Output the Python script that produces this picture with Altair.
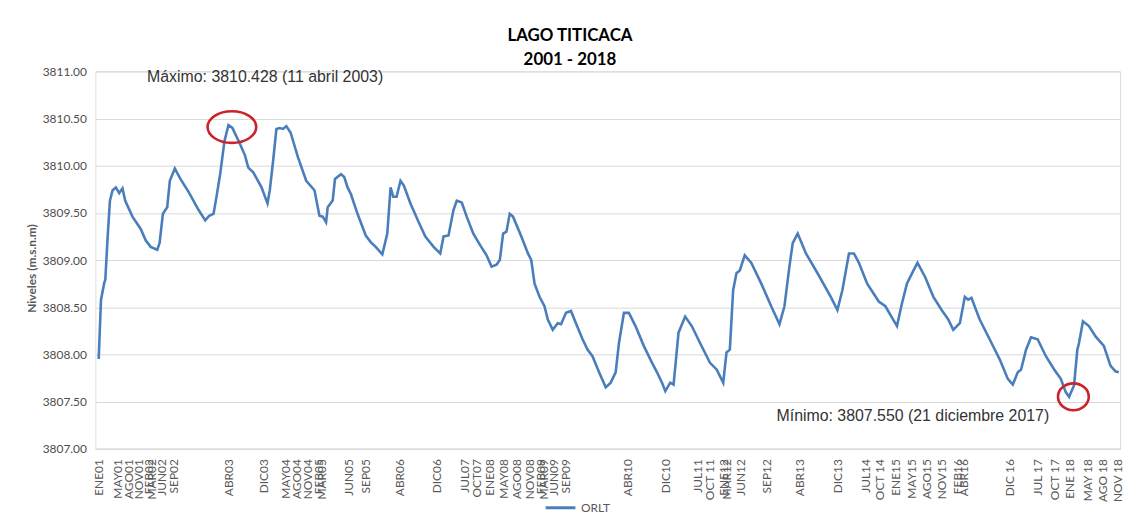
import altair as alt
import pandas as pd

# Fila (posición de la observación en el eje de categorías) y nivel (m.s.n.m)
filas = [20, 34, 54, 60, 74, 88, 104, 124, 144, 164, 180, 224, 274, 304, 334, 374, 388, 408, 434, 450,
         480, 514, 564, 624, 664, 688, 714, 728, 754, 780, 804, 828, 874, 904, 924, 954, 1004, 1040, 1054, 1074,
         1094, 1114, 1134, 1154, 1180, 1224, 1274, 1324, 1354, 1374, 1394, 1404, 1434, 1448, 1484, 1504, 1524, 1544, 1584, 1634,
         1664, 1694, 1734, 1764, 1784, 1800, 1820, 1844, 1864, 1904, 1954, 1994, 2044, 2084, 2104, 2134, 2164, 2184, 2214, 2244,
         2284, 2324, 2364, 2394, 2424, 2444, 2464, 2484, 2504, 2524, 2574, 2614, 2634, 2654, 2684, 2714, 2734, 2764, 2794, 2814,
         2844, 2874, 2904, 2944, 2974, 3004, 3044, 3084, 3114, 3144, 3164, 3194, 3224, 3264, 3314, 3364, 3394, 3424, 3444, 3474,
         3494, 3524, 3564, 3604, 3654, 3714, 3754, 3794, 3814, 3834, 3854, 3874, 3894, 3924, 3964, 4024, 4084, 4134, 4164, 4194,
         4214, 4244, 4294, 4364, 4444, 4484, 4514, 4554, 4584, 4614, 4664, 4734, 4774, 4814, 4844, 4874, 4904, 4944, 4968, 5014,
         5064, 5114, 5154, 5184, 5224, 5254, 5274, 5294, 5344, 5404, 5464, 5514, 5544, 5574, 5594, 5624, 5654, 5694, 5744, 5794,
         5834, 5864, 5884, 5914, 5934, 5944, 5968, 6004, 6044, 6094, 6134, 6164, 6184]
niveles = [3807.95, 3808.58, 3808.76, 3808.79, 3809.24, 3809.63, 3809.74, 3809.77, 3809.71, 3809.76, 3809.63, 3809.46, 3809.33, 3809.21, 3809.14, 3809.11, 3809.18, 3809.49, 3809.56, 3809.84,
           3809.97, 3809.86, 3809.72, 3809.53, 3809.42, 3809.47, 3809.49, 3809.63, 3809.91, 3810.26, 3810.43, 3810.40, 3810.23, 3810.11, 3809.98, 3809.93, 3809.77, 3809.60, 3809.74, 3810.05,
           3810.39, 3810.40, 3810.39, 3810.42, 3810.35, 3810.09, 3809.84, 3809.74, 3809.47, 3809.46, 3809.40, 3809.56, 3809.63, 3809.86, 3809.91, 3809.88, 3809.77, 3809.70, 3809.49, 3809.26,
           3809.19, 3809.14, 3809.06, 3809.28, 3809.77, 3809.67, 3809.67, 3809.84, 3809.79, 3809.60, 3809.40, 3809.25, 3809.14, 3809.07, 3809.25, 3809.26, 3809.53, 3809.63, 3809.61, 3809.46,
           3809.28, 3809.16, 3809.05, 3808.93, 3808.95, 3809.00, 3809.28, 3809.30, 3809.49, 3809.46, 3809.25, 3809.07, 3809.00, 3808.75, 3808.61, 3808.51, 3808.37, 3808.26, 3808.33, 3808.32,
           3808.44, 3808.46, 3808.33, 3808.16, 3808.05, 3807.98, 3807.81, 3807.65, 3807.70, 3807.81, 3808.12, 3808.44, 3808.44, 3808.30, 3808.09, 3807.91, 3807.81, 3807.70, 3807.61, 3807.70,
           3807.68, 3808.23, 3808.40, 3808.30, 3808.12, 3807.91, 3807.84, 3807.70, 3808.02, 3808.05, 3808.68, 3808.86, 3808.89, 3809.05, 3808.97, 3808.75, 3808.51, 3808.32, 3808.51, 3808.93,
           3809.18, 3809.28, 3809.07, 3808.86, 3808.61, 3808.47, 3808.68, 3809.07, 3809.07, 3808.97, 3808.75, 3808.56, 3808.51, 3808.39, 3808.30, 3808.54, 3808.75, 3808.89, 3808.97, 3808.82,
           3808.61, 3808.47, 3808.37, 3808.26, 3808.33, 3808.61, 3808.58, 3808.60, 3808.37, 3808.16, 3807.95, 3807.74, 3807.68, 3807.81, 3807.84, 3808.05, 3808.18, 3808.16, 3807.98, 3807.84,
           3807.74, 3807.60, 3807.55, 3807.67, 3808.05, 3808.12, 3808.35, 3808.30, 3808.19, 3808.09, 3807.88, 3807.82, 3807.81]

# Etiquetas del eje de categorías y la fila en la que aparecen
etiqueta_filas = [18, 132, 198, 258, 324, 342, 402, 474, 804, 1014, 1152, 1218, 1284, 1350, 1368, 1530, 1632, 1836, 2064, 2232,
                  2304, 2382, 2466, 2544, 2622, 2688, 2706, 2766, 2844, 3216, 3444, 3636, 3714, 3798, 3816, 3900, 4056, 4254, 4482, 4656,
                  4740, 4836, 4932, 5022, 5112, 5208, 5244, 5526, 5694, 5796, 5886, 5994, 6084, 6174]
etiqueta_textos = ["ENE01", "MAY01", "AGO01", "NOV01", "FEB02", "MAR02", "JUN02", "SEP02", "ABR03", "DIC03", "MAY04", "AGO04", "NOV04", "FEB05", "MAR05", "JUN05", "SEP05", "ABR06", "DIC06", "JUL07",
                   "OCT07", "ENE08", "MAY08", "AGO08", "NOV08", "FEB09", "MAR09", "JUN09", "SEP09", "ABR10", "DIC10", "JUL11", "OCT 11", "ENE12", "MAR12", "JUN12", "SEP12", "ABR13", "DIC13", "JUL14",
                   "OCT 14", "ENE15", "MAY15", "AGO15", "NOV15", "FEB16", "ABR16", "DIC 16", "JUL 17", "OCT 17", "ENE 18", "MAY 18", "AGO 18", "NOV 18"]

# Anotaciones
nota_filas = [312, 4116]
nota_niveles = [3810.94, 3807.35]
nota_textos = ["Máximo: 3810.428 (11 abril 2003)", "Mínimo: 3807.550 (21 diciembre 2017)"]
circ_max = {"fila": [825], "nivel": [3810.41]}
circ_min = {"fila": [5910], "nivel": [3807.55]}

serie = "ORLT"
y_ticks = [3807.0, 3807.5, 3808.0, 3808.5, 3809.0, 3809.5, 3810.0, 3810.5, 3811.0]

df = pd.DataFrame({"fila": filas, "nivel": niveles, "serie": serie})
notas = pd.DataFrame({"fila": nota_filas, "nivel": nota_niveles, "texto": nota_textos})

xs = alt.Scale(domain=[0, 6192], nice=False, zero=False)
ys = alt.Scale(domain=[3807, 3811], nice=False, zero=False)

label_expr = ("[" + ",".join("'%s'" % t for t in etiqueta_textos) + "][indexof(["
              + ",".join(str(r) for r in etiqueta_filas) + "], datum.value)]")

x_axis = alt.Axis(values=etiqueta_filas, tickCount=len(etiqueta_filas) + 10, labelExpr=label_expr,
                  labelAngle=-90, labelOverlap=False,
                  labelFlush=False, grid=False, ticks=False, domain=True, domainColor="#d9d9d9",
                  labelPadding=10, labelFont="Lato", labelFontSize=12, labelColor="#595959", title=None)
y_axis = alt.Axis(values=y_ticks, tickCount=20, format=".2f", grid=True, gridColor="#d9d9d9", domain=False, ticks=False,
                  labelPadding=9, labelFont="Lato", labelFontSize=12, labelColor="#4d4d4d",
                  title="Niveles (m.s.n.m)", titleFont="Lato", titleFontSize=12, titleFontWeight="bold",
                  titleColor="#595959", titleX=-64, titleY=198, titleAlign="center", titleBaseline="middle")

linea = alt.Chart(df).mark_line(strokeWidth=2.6).encode(
    x=alt.X("fila:Q", scale=xs, axis=x_axis),
    y=alt.Y("nivel:Q", scale=ys, axis=y_axis),
    color=alt.Color("serie:N", scale=alt.Scale(domain=[serie], range=["#4a7ebb"]),
                    legend=alt.Legend(title=None, orient="none", legendX=452, legendY=423,
                                      symbolType="stroke", symbolSize=900, symbolStrokeWidth=3,
                                      labelFont="Lato", labelFontSize=12, labelColor="#595959", padding=0)),
)

ell_max_path = "M -1 0 A 1 0.65 0 1 0 1 0 A 1 0.65 0 1 0 -1 0 Z"
ell_min_path = "M -1 0 A 1 0.87 0 1 0 1 0 A 1 0.87 0 1 0 -1 0 Z"

c1 = alt.Chart(pd.DataFrame(circ_max)).mark_point(shape=ell_max_path, size=2401, filled=False,
                                                   strokeWidth=2.6, color="#c8242c", opacity=1).encode(
    x=alt.X("fila:Q", scale=xs), y=alt.Y("nivel:Q", scale=ys))
c2 = alt.Chart(pd.DataFrame(circ_min)).mark_point(shape=ell_min_path, size=961, filled=False,
                                                   strokeWidth=2.6, color="#c8242c", opacity=1).encode(
    x=alt.X("fila:Q", scale=xs), y=alt.Y("nivel:Q", scale=ys))

textos = alt.Chart(notas).mark_text(align="left", baseline="middle", font="Liberation Sans",
                                    fontSize=16, color="#333333").encode(
    x=alt.X("fila:Q", scale=xs), y=alt.Y("nivel:Q", scale=ys), text="texto:N")

chart = alt.layer(linea, c1, c2, textos).properties(
    width=1032, height=380,
    autosize=alt.AutoSizeParams(type="none"),
    padding={"left": 88, "top": 62, "right": 6, "bottom": 71},
    title=alt.TitleParams(text=["LAGO TITICACA", "2001 - 2018"], font="Lato", fontSize=17,
                          fontWeight="bold", color="#000000", anchor="middle", dx=-38,
                          lineHeight=25, offset=-4),
).configure_view(stroke=None).configure(background="white")

chart.save("out.html", embed_options={"renderer": "svg", "actions": False})
